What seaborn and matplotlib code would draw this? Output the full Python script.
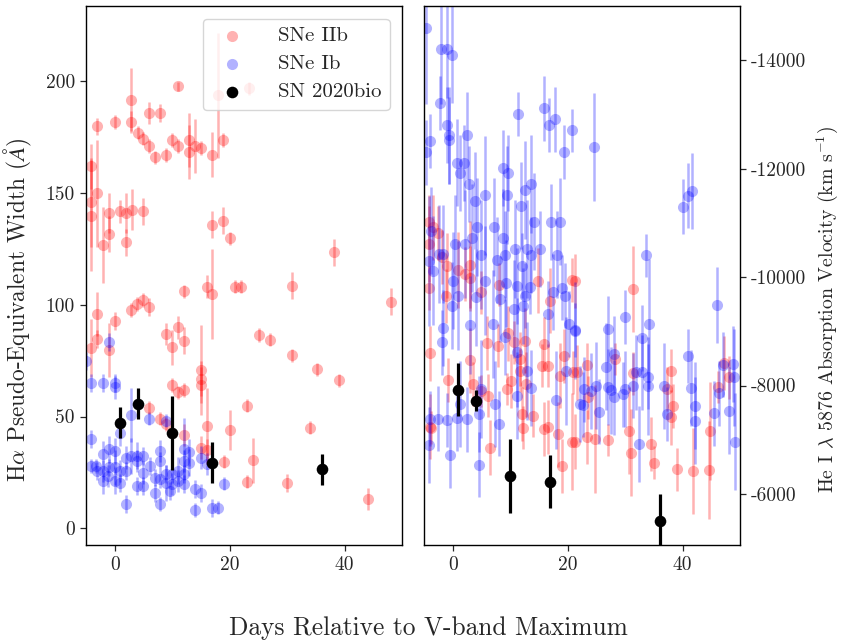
import numpy as np
import pandas as pd
import matplotlib
matplotlib.use("Agg")
import matplotlib.pyplot as plt
import seaborn as sns

sns.set_style("ticks")
plt.rcParams['font.family'] = ['cmr10', 'DejaVu Serif']
plt.rcParams['mathtext.fontset'] = 'cm'
plt.rcParams['axes.formatter.use_mathtext'] = False
plt.rcParams['axes.unicode_minus'] = False

# ---------------- Left panel: H-alpha pEW ----------------
iib_pew_day = [-4.1, -3.1, 0.0, 2.9, 2.9, 6.0, 7.9, 11.0, 4.0, 5.0, 6.0, 7.0, 9.0, 10.0, 11.0,
               12.9, 12.9, 14.0, 15.0, 17.0, 18.9, 18.0, 23.3, -4.1, -4.1, -3.1, -2.0, -1.0, -1.0,
               1.0, 2.0, 2.0, 3.0, 5.0, 17.0, 18.9, 20.0,
               -3.0, 0.0, -4.1, -3.0, -1.0, 2.9, 3.9, 4.9, 6.0, 12.1, 16.0, 17.0, 21.0, 22.0,
               9.0, 11.0, 10.0, 12.1, 10.0, 11.0, 12.1, 15.0, 15.0, 15.0, 6.0, 7.9, 8.9, 12.0,
               16.0, 20.0, 15.0, 16.0, 19.1, 23.0, 23.0,
               25.1, 27.1, 30.9, 38.1, 48.1, 30.9, 35.2, 39.1, 34.0, 24.1, 30.0, 44.0]
iib_pew_val = [161.9, 179.8, 181.7, 191.8, 181.7, 185.8, 185.8, 197.7, 177.0, 174.3, 171.0, 166.0,
               167.1, 173.8, 171.0, 173.8, 168.3, 171.0, 170.1, 167.1, 173.8, 193.7, 196.8,
               145.9, 139.9, 149.9, 126.9, 141.0, 131.7, 141.8, 141.0, 128.0, 142.6, 141.8,
               135.9, 137.7, 129.7,
               95.9, 92.9, 80.6, 84.7, 79.7, 97.7, 100.4, 102.2, 99.1, 106.0, 108.1, 104.8,
               108.1, 108.1, 86.9, 89.9, 80.9, 83.9, 64.1, 60.8, 61.8, 70.8, 67.0, 64.1, 54.0,
               49.1, 46.6, 41.8, 45.8, 43.9, 36.1, 34.9, 29.8, 54.8, 20.9,
               86.4, 84.4, 108.6, 123.4, 101.4, 77.4, 71.1, 66.2, 45.0, 30.4, 20.1, 13.0]
iib_pew_err = [10, 4, 3, 14, 5, 5, 4, 2, 3, 3, 3, 3, 3, 3, 3, 12, 12, 12, 3, 10, 3, 28, 3,
               20, 25, 24, 17, 9, 8, 5, 9, 6, 9, 6, 6, 6, 3,
               10, 4, 13, 4, 12, 3, 3, 3, 4, 3, 5, 20, 3, 3, 5, 5, 8, 6, 3, 3, 3, 20, 8, 8, 3,
               3, 3, 5, 17, 9, 5, 5, 3, 3, 3,
               3, 3, 6, 6, 6, 3, 3, 3, 3, 10, 4, 5]

ib_pew_day = [-1.0, -5.0, -4.1, -2.0, 0.0, 0.0, 2.9, 6.0, 8.9, 1.0, -4.1, -4.1, -3.2, -2.0,
              -2.0, -2.0, -1.0, -1.0, 0.0, 0.0, 0.0, 1.0, 1.0, 2.0, 2.0, 2.0, 2.9, 3.9, 3.9,
              5.0, 5.0, 3.9, 5.0, 7.0, 7.0, 7.9, 7.9, 7.9, 8.9, 8.9, 10.0, 10.0, 11.0, 12.1,
              12.1, 12.1, 12.1, 13.0, 13.0, 14.0, 15.0, 15.0, 14.0, 16.0, 17.0, 18.0, 19.1,
              7.9, -3.1, -1.2, 6.1, 9.6, 11.0]
ib_pew_val = [83.2, 75.0, 64.8, 64.8, 64.8, 63.0, 50.8, 49.1, 48.1, 42.8, 39.9, 27.9, 27.9,
              33.2, 25.7, 21.2, 35.4, 27.2, 34.6, 27.2, 21.2, 25.7, 20.4, 31.6, 25.7, 11.0,
              32.4, 32.4, 30.2, 32.4, 24.9, 19.0, 19.0, 22.7, 15.9, 34.6, 30.2, 22.0, 24.2,
              20.4, 24.2, 19.7, 25.7, 35.4, 30.2, 24.2, 19.7, 33.9, 29.4, 17.5, 31.6, 15.9,
              8.1, 28.7, 9.2, 9.2, 20.0, 10.9, 25.7, 23.5, 28.0, 16.8, 21.2]
ib_pew_err = [4, 4, 4, 4, 4, 5, 12, 3, 3, 6, 4, 3, 3, 6, 5, 6, 6, 4, 6, 8, 6, 5, 4, 5, 4, 4,
              8, 6, 5, 4, 5, 4, 4, 4, 4, 5, 4, 4, 4, 8, 4, 5, 6, 14, 5, 4, 4, 6, 6, 4, 5, 4,
              3, 5, 4, 3, 3, 3, 4, 5, 4, 4, 5]

bio_day = [1.0, 4.0, 10.0, 17.0, 36.0]
bio_pew = [47.3, 55.8, 42.6, 29.4, 26.4]
bio_pew_err = [7, 7, 16.7, 9, 7]

# ---------------- Right panel: He I 5876 velocity ----------------
iib_vel_day = [-4.2, -3.4, -2.5, -4.1, -1.9, -1.0, 1.0, 2.2, 3.0, 3.0, -4.1, -1.2, 5.0, 8.1,
               14.9, 20.8, 16.9,
               -3.9, 3.0, 5.9, 7.9, 9.7, 10.6, 12.6, 15.8, 19.3, 11.7, 15.5, 16.6, 11.7, 18.7,
               21.0, -0.9, 3.6, 5.0, 6.2, 9.4, 10.2, 12.8, 12.0, 14.0, -3.9, 16.6,
               -3.7, 6.5, 12.3, 15.8, 18.4, 20.8, 19.0,
               21.2, 31.4, 23.4, 21.7, 28.3, 31.3, 38.0, 47.3, 48.0, 46.2, 37.3, 38.3, 23.5,
               21.2, 23.4, 24.8, 27.0, 30.7, 31.0, 34.5, 35.0, 39.0, 41.9, 44.6, 44.8, 38.0]
iib_vel_val = [-11012, -10919, -10808, -10612, -10364, -10211, -10132, -10058, -10229, -9977,
               -9799, -9644, -9718, -9860, -9934, -9947, -9565,
               -8591, -8468, -8777, -8734, -8961, -8795, -8826, -8765, -8549, -8488, -8364,
               -8364, -8272, -8180, -8240, -8100, -8026, -7902, -7810, -7934, -8087, -8026,
               -7472, -7441, -7237, -7237,
               -7225, -6856, -7225, -7195, -7103, -6966, -6517,
               -9934, -9781, -8383, -8240, -8488, -8222, -8272, -8408, -8148, -7976, -7934,
               -7625, -7779,
               -6966, -7053, -7010, -6992, -7164, -6763, -6918, -6578, -6456, -6425, -6443,
               -7164, -7410]
iib_vel_err = [500, 600, 500, 700, 500, 600, 700, 500, 800, 600, 400, 500, 400, 400, 600, 400,
               600,
               500, 600, 500, 400, 500, 400, 600, 500, 500, 500, 400, 400, 400, 600, 400, 400,
               400, 300, 400, 300, 500, 600, 500, 400, 600, 500,
               300, 500, 400, 500, 600, 900, 500,
               500, 800, 400, 500, 300, 400, 400, 500, 400, 300, 400, 400, 400,
               500, 500, 1000, 300, 800, 800, 500, 300, 400, 800, 900, 900, 500]

ib_vel_day = [-4.6, -2.0, -1.0, -0.1, -2.3, -1.0, -0.7, -0.7, -3.9, -4.7, 2.5, 0.8, 1.9, 1.3,
              2.8, 3.8, 5.7, 8.7, 9.6, 9.4, 11.3, 12.5, 13.6, 11.9, 14.2, 15.8, 16.8, 17.8,
              20.8, 19.3,
              24.6, 40.0, 40.9, 41.6, 33.7, 34.2, 30.0, 46.0, 32.9, 40.9,
              4.2, 7.1, 17.1, 18.6, 0.4, 2.2, 3.3, 8.7, 5.0, 7.7, 9.1, 10.9, 13.0, 13.7, 15.2,
              18.1, 12.0, -4.2, -3.4, 0.0, 5.6, 9.3, 11.1, 13.5, 17.5, 19.1, 1.0, 4.1, 8.2,
              12.6, 19.5, -3.8, -2.4, -1.7,
              -0.2, 3.0, 7.0, -1.7, -1.9, 9.1, 10.6, 12.3, 16.6, 20.3, 21.3, 11.1, 13.0, 13.7,
              11.1, 18.0, 19.8, 22.2, 7.4, 1.3, 4.5, -3.9, -2.5, -1.0, 0.7, 2.4, 5.0,
              -4.2, -0.5, 4.5, 8.1,
              21.2, 27.0, 28.0, 26.7, 27.0, 27.5, 29.9, 31.3, 31.9, 33.0, 34.0, 34.0, 36.8,
              41.5, 47.0, 48.7, 48.9, 46.4, 22.6, 28.1, 29.6, 42.2, 22.9, 24.1, 24.9,
              25.4, 32.5, 37.3, 42.2, 45.4, 48.1, 49.1]
ib_vel_val = [-14601, -14201, -14201, -14103, -13209, -12810, -12612, -12520, -12507, -12304,
              -12612, -12108, -12108, -11916, -11720, -11412, -11510, -12009, -11916, -11517,
              -13006, -11610, -11713, -11320, -11024, -13117, -12810, -12908, -12705, -12304,
              -12394, -11301, -11497, -11594, -10403, -9136, -9266, -9480, -8876, -8538,
              -10919, -10919, -11024, -11024, -10612, -10612, -10722, -10722, -10414, -10316,
              -10414, -10520, -10520, -10414, -10520, -10414, -10211, -10303, -10119, -9934,
              -9934, -9884, -9842, -9810, -9718, -9799, -9657, -9626, -9596, -9657, -9657,
              -10858, -10427, -10427,
              -9472, -9121, -9134, -9060, -8795, -8900, -9411, -9472, -9319, -9134, -9024,
              -8610, -8272, -7952, -7810, -7731, -8272, -7657, -7657, -7657, -7472, -7390,
              -7390, -7370, -7400, -7380, -7934,
              -6910, -6715, -6536, -7298,
              -9011, -9042, -8580, -8346, -7974, -7910, -7943, -8000, -8240, -8240, -8161,
              -7995, -7990, -7952, -8383, -8396, -8148, -7857, -7644, -7779, -7841, -7625,
              -7934, -7902, -7995,
              -7517, -6929, -7472, -7348, -7490, -7533, -6966]
ib_vel_err = [1400, 1000, 900, 900, 500, 700, 900, 800, 500, 600, 800, 800, 700, 700, 700, 900,
              1100, 700, 700, 900, 400, 900, 900, 800, 900, 600, 500, 600, 400, 500,
              1000, 500, 600, 700, 400, 1200, 500, 700, 600, 500,
              900, 900, 700, 800, 900, 1000, 1000, 900, 1000, 800, 800, 900, 900, 700, 700,
              800, 600, 1200, 1000, 900, 1000, 800, 700, 500, 700, 600, 1000, 900, 800, 600,
              600, 800, 900, 900,
              800, 900, 1000, 700, 600, 700, 900, 700, 600, 600, 500, 1000, 900, 700, 800,
              900, 1000, 700, 800, 800, 700, 500, 600, 500, 600, 600, 900,
              700, 600, 600, 600,
              900, 600, 700, 800, 700, 800, 700, 600, 700, 700, 600, 900, 800, 700, 600, 700,
              900, 600, 600, 700, 600, 800, 600, 700, 800,
              600, 700, 500, 800, 600, 800, 900]

bio_vel = [-7921, -7718, -6332, -6227, -5501]
bio_vel_err = [490, 190, 690, 490, 500]

# ---------------- Figure ----------------
fig = plt.figure(figsize=(8.41, 6.41), dpi=100)
ax1 = fig.add_axes([86 / 841, 1 - 545 / 641, 316 / 841, 539 / 641])
ax2 = fig.add_axes([424 / 841, 1 - 545 / 641, 316 / 841, 539 / 641])

MS = 64
ELW = 1.8


def draw(ax, d, v, e, color, alpha, label, s, elw, z):
    df = pd.DataFrame({"day": d, "val": v})
    ax.errorbar(d, v, yerr=e, fmt='none', ecolor=color, alpha=alpha, elinewidth=elw,
                capsize=0, zorder=z)
    sns.scatterplot(data=df, x="day", y="val", color=color, alpha=alpha, s=s, linewidth=0,
                    label=label, ax=ax, zorder=z)


draw(ax1, iib_pew_day, iib_pew_val, iib_pew_err, 'red', 0.3, 'SNe IIb', MS, ELW, 2)
draw(ax1, ib_pew_day, ib_pew_val, ib_pew_err, 'blue', 0.3, 'SNe Ib', MS, ELW, 2)
draw(ax1, bio_day, bio_pew, bio_pew_err, 'black', 1.0, 'SN 2020bio', 70, 2.3, 3)

draw(ax2, iib_vel_day, iib_vel_val, iib_vel_err, 'red', 0.3, None, MS, ELW, 2)
draw(ax2, ib_vel_day, ib_vel_val, ib_vel_err, 'blue', 0.3, None, MS, ELW, 2)
draw(ax2, bio_day, bio_vel, bio_vel_err, 'black', 1.0, None, 70, 2.3, 3)

for ax in (ax1, ax2):
    ax.set_xlim(-5, 50)
    ax.set_xticks([0, 20, 40])
    ax.set_xlabel("")
    ax.tick_params(labelsize=14, length=4.5, width=0.9, direction='out')
    for sp in ax.spines.values():
        sp.set_visible(True)
        sp.set_linewidth(1.0)
        sp.set_color('black')

ax1.set_ylim(-7.5, 233.7)
ax1.set_yticks([0, 50, 100, 150, 200])
ax1.set_ylabel(r"H$\alpha$ Pseudo-Equivalent Width ($\AA$)", fontsize=16.8)
ax1.yaxis.set_label_coords(-0.166, 0.436)

ax2.set_ylim(-5058, -15000)
ax2.set_yticks([-14000, -12000, -10000, -8000, -6000])
ax2.yaxis.tick_right()
ax2.yaxis.set_label_position('right')
ax2.set_ylabel(r"He I $\lambda$ 5876 Absorption Velocity (km s$^{-1}$)", fontsize=14.3)
ax2.yaxis.set_label_coords(1.236, 0.436)
ax2.tick_params(axis='y', left=False, right=True)

leg = ax1.legend(loc='upper right', fontsize=15, frameon=True, framealpha=0.8,
                 edgecolor='0.8', borderaxespad=0.6, handletextpad=1.2,
                 labelspacing=0.45, borderpad=0.4)

fig.text(428 / 841, 1 - 628 / 641, "Days Relative to V-band Maximum", ha='center',
         va='center', fontsize=18.3)

fig.savefig("out.png", dpi=100)
